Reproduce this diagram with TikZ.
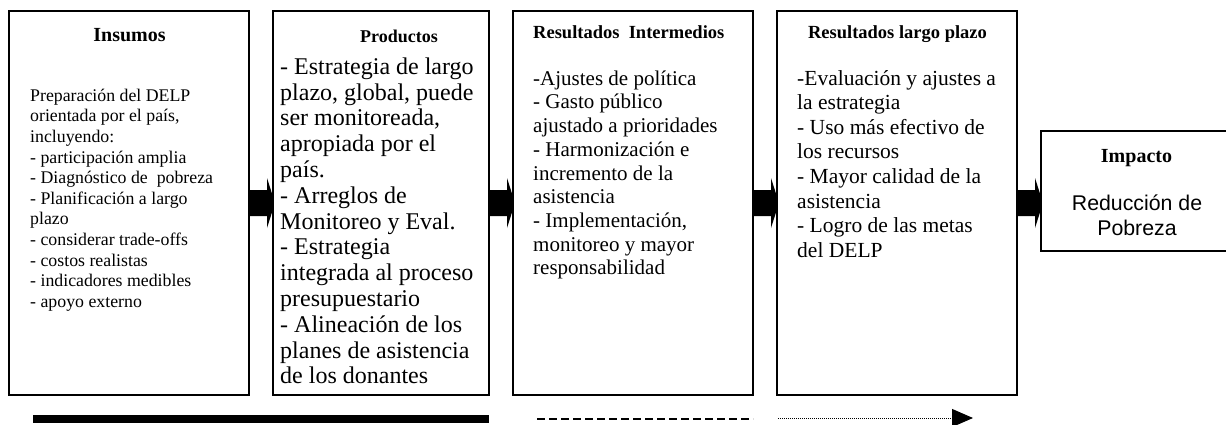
\documentclass[tikz,border=0pt]{standalone}
\usepackage{fontspec}
\setmainfont{Liberation Serif}
\newfontfamily\arialfont{Liberation Sans}
\usetikzlibrary{calc,backgrounds,arrows.meta}
\newcommand\blockarrow[2]{%
  \fill ($(#1.east)+(0,-13)$) -- ($(#2.west |- #1.east)+(-6,-13)$) -- ($(#2.west |- #1.east)+(-6,-25)$) -- ($(#2.west |- #1.east)+(2,0)$) -- ($(#2.west |- #1.east)+(-6,25)$) -- ($(#2.west |- #1.east)+(-6,13)$) -- ($(#1.east)+(0,13)$) -- cycle;}
\begin{document}
\begin{tikzpicture}[x=1pt,y=-1pt,
  box/.style={draw=black, line width=2pt, fill=white, inner sep=0pt, outer sep=0pt},
  body/.style={anchor=north west, align=left, inner sep=0pt},
  ttl/.style={anchor=base, inner sep=0pt},
  bar/.style={line width=8pt},
  dashline/.style={line width=2pt, dash pattern=on 8pt off 4pt},
  dotline/.style={line width=1pt, dash pattern=on 1pt off 1pt, -{Triangle[length=21pt,width=18pt]}}]
\useasboundingbox (0,0) rectangle (1226,425);
% boxes
\node[box, minimum width=240pt, minimum height=384pt] (b1) at (129,203) {};
\node[box, minimum width=216pt, minimum height=384pt] (b2) at (381,203) {};
\node[box, minimum width=240pt, minimum height=384pt] (b3) at (633,203) {};
\node[box, minimum width=240pt, minimum height=384pt] (b4) at (897,203) {};
\node[box, minimum width=192pt, minimum height=120pt] (imp) at (1137,191) {};
% block arrows behind boxes
\begin{scope}[on background layer]
\blockarrow{b1}{b2}
\blockarrow{b2}{b3}
\blockarrow{b3}{b4}
\blockarrow{b4}{imp}
\end{scope}
% titles
\node[ttl, font=\fontsize{20}{23}\selectfont\bfseries] (h1) at (129.5,42) {Insumos};
\node[ttl, font=\fontsize{18}{21}\selectfont\bfseries] (h2) at (399,43) {Productos};
\node[ttl, anchor=base west, font=\fontsize{18.5}{21}\selectfont\bfseries] (h3) at (533,39) {Resultados\ \ Intermedios};
\node[ttl, font=\fontsize{18.5}{21}\selectfont\bfseries] (h4) at (897.5,39) {Resultados largo plazo};
\node[ttl, font=\fontsize{20}{23}\selectfont\bfseries] (h5) at (1136.5,163) {Impacto};
% bodies
\node[body, font=\fontsize{17.8}{20.6}\selectfont] (t1) at (30,86.6) {\strut Preparación del DELP\\orientada por el país,\\incluyendo:\\- participación amplia\\- Diagnóstico de\ \ pobreza\\- Planificación a largo\\plazo\\- considerar trade-offs\\- costos realistas\\- indicadores medibles\\- apoyo externo};
\node[body, font=\fontsize{24}{25.8}\selectfont] (t2) at (280,56) {\strut - Estrategia de largo\\plazo, global, puede\\ser monitoreada,\\apropiada por el\\país.\\- Arreglos de\\Monitoreo y Eval.\\- Estrategia\\integrada al proceso\\presupuestario\\- Alineación de los\\planes de asistencia\\de los donantes};
\node[body, font=\fontsize{21}{23.7}\selectfont] (t3) at (533,68.5) {\strut -Ajustes de política\\- Gasto público\\ajustado a prioridades\\- Harmonización e\\incremento de la\\asistencia\\- Implementación,\\monitoreo y mayor\\responsabilidad};
\node[body, font=\fontsize{21.5}{24.6}\selectfont] (t4) at (797,67.6) {\strut -Evaluación y ajustes a\\la estrategia\\- Uso más efectivo de\\los recursos\\- Mayor calidad de la\\asistencia\\- Logro de las metas\\del DELP};
\node[ttl, font=\fontsize{21.3}{25}\selectfont\arialfont] (r1) at (1137,210.6) {Reducción de};
\node[ttl, font=\fontsize{21.3}{25}\selectfont\arialfont] (r2) at (1137,235.6) {Pobreza};
% bottom arrows
\coordinate (s1) at (33,419); \coordinate (s2) at (489,419);
\coordinate (d1) at (537,419); \coordinate (d2) at (753,419);
\coordinate (o1) at (778,418); \coordinate (o2) at (973,418);
\draw[bar] (s1) -- (s2);
\draw[dashline] (d1) -- (d2);
\draw[dotline] (o1) -- (o2);
\end{tikzpicture}
\end{document}
